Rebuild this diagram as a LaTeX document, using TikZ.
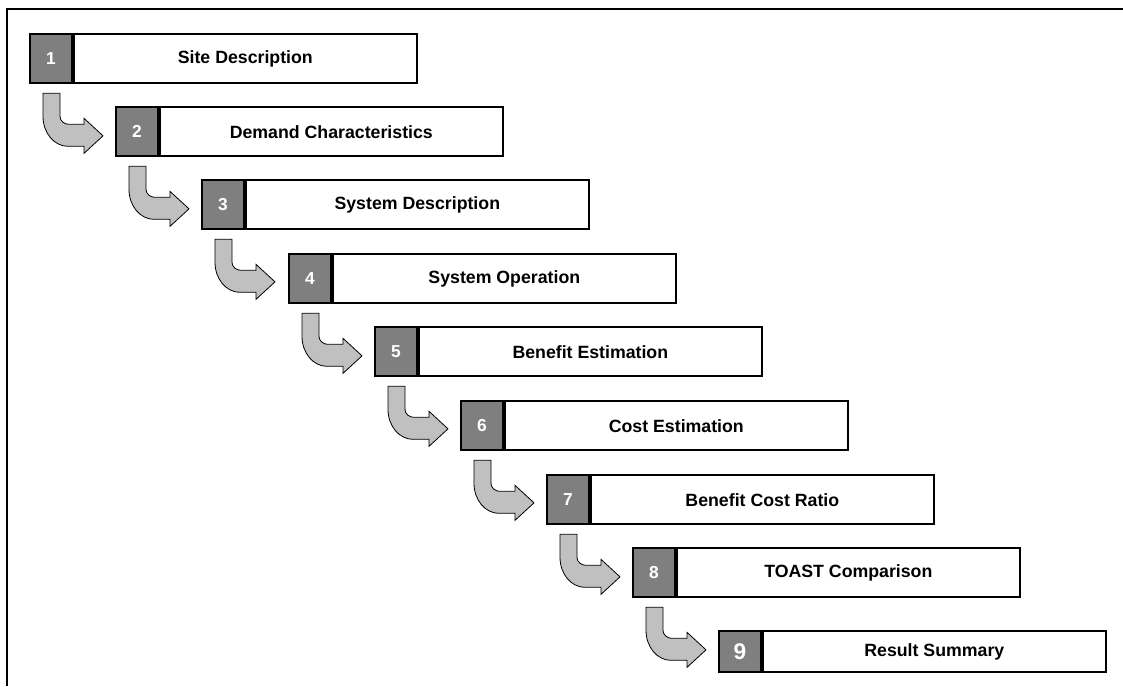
\documentclass[tikz,border=0pt]{standalone}
\usepackage{fontspec}
\setmainfont{Liberation Sans}
\definecolor{numgray}{HTML}{7F7F7F}
\definecolor{arrowgray}{HTML}{C0C0C0}
\tikzset{
  numbox/.style={draw=black, line width=1.5pt, fill=numgray, text=white,
    font=\fontsize{13}{15}\selectfont\bfseries, minimum width=31.5pt, minimum height=37pt,
    inner sep=0pt, anchor=north west},
  labelbox/.style={draw=black, line width=1.5pt, fill=white,
    font=\fontsize{13.3}{15}\selectfont\bfseries, minimum width=257pt, minimum height=37pt,
    inner sep=0pt, anchor=west},
  bentarrow/.style={draw=black, line width=0.6pt, fill=arrowgray, line join=miter},
  frame/.style={draw=black, line width=2.2pt}
}
\newcommand{\bent}[1]{%
  \begin{scope}[shift={(#1.south west)}]
    \path[bentarrow] (14,-9) -- (31,-9) -- (31,-32)
      arc[start angle=180, end angle=270, x radius=9, y radius=8]
      -- (55,-40) -- (55,-34) -- (74,-51.5) -- (55,-69) -- (55,-62) -- (39,-62)
      arc[start angle=270, end angle=180, x radius=25, y radius=30]
      -- cycle;
  \end{scope}}
\begin{document}
\begin{tikzpicture}[x=0.75pt, y=0.75pt]
  \useasboundingbox (0,0) rectangle (1123,-686);
  \draw[frame] (7,-686) -- (7,-9) -- (1123,-9);
  % step boxes
  \node[numbox] (n1) at (29,-33) {1};
  \node[labelbox] (t1) at (n1.east) {Site Description};
  \node[numbox] (n2) at (115,-106) {2};
  \node[labelbox] (t2) at (n2.east) {Demand Characteristics};
  \node[numbox] (n3) at (201,-179) {3};
  \node[labelbox] (t3) at (n3.east) {System Description};
  \node[numbox] (n4) at (288,-253) {4};
  \node[labelbox] (t4) at (n4.east) {System Operation};
  \node[numbox] (n5) at (374,-326) {5};
  \node[labelbox] (t5) at (n5.east) {Benefit Estimation};
  \node[numbox] (n6) at (460,-400) {6};
  \node[labelbox] (t6) at (n6.east) {Cost Estimation};
  \node[numbox] (n7) at (546,-474) {7};
  \node[labelbox] (t7) at (n7.east) {Benefit Cost Ratio};
  \node[numbox] (n8) at (632,-547) {8};
  \node[labelbox] (t8) at (n8.east) {TOAST Comparison};
  \node[numbox, minimum height=31pt, font=\fontsize{17}{19}\selectfont\bfseries] (n9) at (718,-630) {9};
  \node[labelbox, minimum height=31pt] (t9) at (n9.east) {Result Summary};
  % bent arrows
  \bent{n1}
  \bent{n2}
  \bent{n3}
  \bent{n4}
  \bent{n5}
  \bent{n6}
  \bent{n7}
  \bent{n8}
\end{tikzpicture}
\end{document}
